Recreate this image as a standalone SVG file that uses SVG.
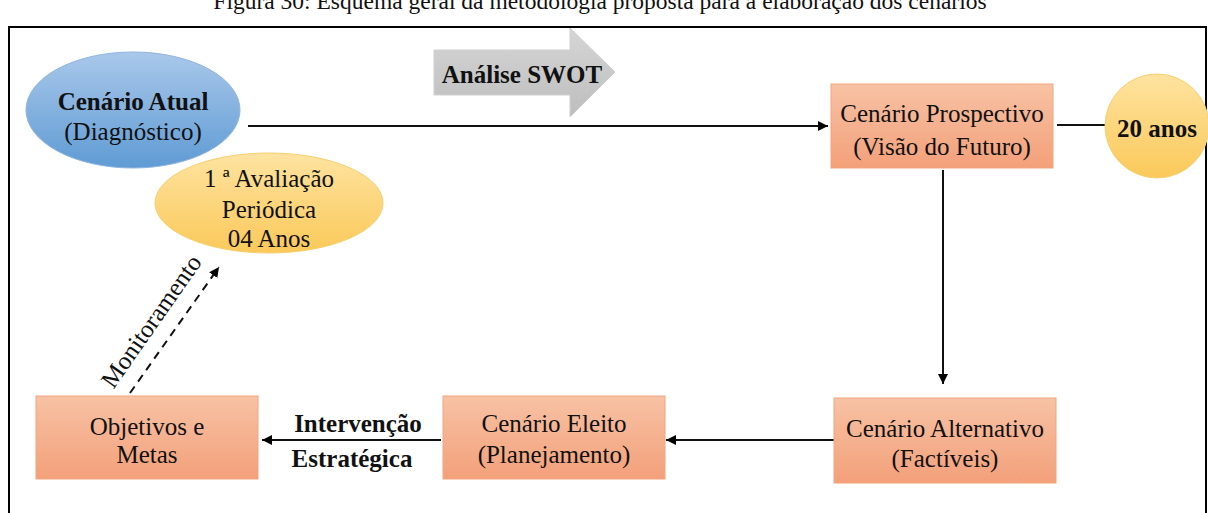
<svg xmlns="http://www.w3.org/2000/svg" width="1208" height="513" viewBox="0 0 1208 513">
<defs>
<linearGradient id="gBox" x1="0" y1="0" x2="0" y2="1"><stop offset="0" stop-color="#f7c2a4"/><stop offset="1" stop-color="#f3a07a"/></linearGradient>
<linearGradient id="gBlue" x1="0" y1="0" x2="0" y2="1"><stop offset="0" stop-color="#a9c8ea"/><stop offset="1" stop-color="#5f9bd4"/></linearGradient>
<linearGradient id="gYel" x1="0" y1="0" x2="0" y2="1"><stop offset="0" stop-color="#fee3a0"/><stop offset="1" stop-color="#fac95a"/></linearGradient>
<linearGradient id="gGray" x1="0" y1="0" x2="0" y2="1"><stop offset="0" stop-color="#d6d6d6"/><stop offset="1" stop-color="#bdbdbd"/></linearGradient>
<marker id="ah" viewBox="0 0 10 10" refX="10" refY="5" markerWidth="10" markerHeight="10" markerUnits="userSpaceOnUse" orient="auto"><path d="M0,0 L10,5 L0,10 z" fill="#000"/></marker>
</defs>
<style>
text{font-family:"Liberation Serif","Times New Roman",serif;font-size:25px;fill:#111;text-anchor:middle}
.b{font-weight:bold}
.box{fill:url(#gBox);stroke:#f2a57f;stroke-width:1}
.ln{stroke:#111;stroke-width:2;fill:none}
</style>
<rect width="1208" height="513" fill="#fff"/>
<text x="600" y="9" style="font-size:23.5px">Figura 30: Esquema geral da metodologia proposta para a elaboração dos cenários</text>
<path d="M9,520 V27 H1206 V520" fill="none" stroke="#000" stroke-width="2"/>

<g id="swot">
<path d="M434,50 H570 V28 L615,72 L570,117 V95 H434 Z" fill="url(#gGray)" stroke="#cfcfcf"/>
<text x="522" y="83" class="b">Análise SWOT</text>
</g>

<g id="connectors">
<line x1="248" y1="126" x2="828" y2="126" class="ln" marker-end="url(#ah)"/>
<line x1="1057" y1="125" x2="1105" y2="125" class="ln"/>
<line x1="943" y1="170" x2="943" y2="384" class="ln" marker-end="url(#ah)"/>
<line x1="835" y1="440" x2="666" y2="440" class="ln" marker-end="url(#ah)"/>
<line x1="441" y1="440" x2="262" y2="440" class="ln" marker-end="url(#ah)"/>
<line x1="130" y1="393" x2="219" y2="267" class="ln" stroke-dasharray="8,6" marker-end="url(#ah)"/>
<text class="b" x="358" y="432">Intervenção</text>
<text class="b" x="352" y="467">Estratégica</text>
<text x="0" y="0" transform="translate(158,326) rotate(-55)">Monitoramento</text>
</g>

<g id="atual">
<ellipse cx="133" cy="110" rx="107" ry="58" fill="url(#gBlue)" stroke="#8fb4df"/>
<text x="133" y="110" class="b">Cenário Atual</text>
<text x="133" y="140">(Diagnóstico)</text>
</g>

<g id="avaliacao">
<ellipse cx="269" cy="203" rx="114" ry="50" fill="url(#gYel)" stroke="#f8cf70"/>
<text x="269" y="187">1 ª Avaliação</text>
<text x="269" y="218">Periódica</text>
<text x="269" y="247">04 Anos</text>
</g>

<g id="prospectivo">
<rect x="831" y="84" width="222" height="84" class="box"/>
<text x="942" y="122">Cenário Prospectivo</text>
<text x="942" y="155">(Visão do Futuro)</text>
</g>

<g id="anos">
<circle cx="1157" cy="126" r="52" fill="url(#gYel)" stroke="#f8cf70"/>
<text x="1157" y="137" class="b">20 anos</text>
</g>

<g id="alternativo">
<rect x="834" y="398" width="222" height="85" class="box"/>
<text x="945" y="437">Cenário Alternativo</text>
<text x="945" y="467">(Factíveis)</text>
</g>

<g id="eleito">
<rect x="443" y="396" width="222" height="83" class="box"/>
<text x="554" y="432">Cenário Eleito</text>
<text x="554" y="463">(Planejamento)</text>
</g>

<g id="objetivos">
<rect x="36" y="396" width="222" height="83" class="box"/>
<text x="147" y="435">Objetivos e</text>
<text x="147" y="463">Metas</text>
</g>
</svg>
